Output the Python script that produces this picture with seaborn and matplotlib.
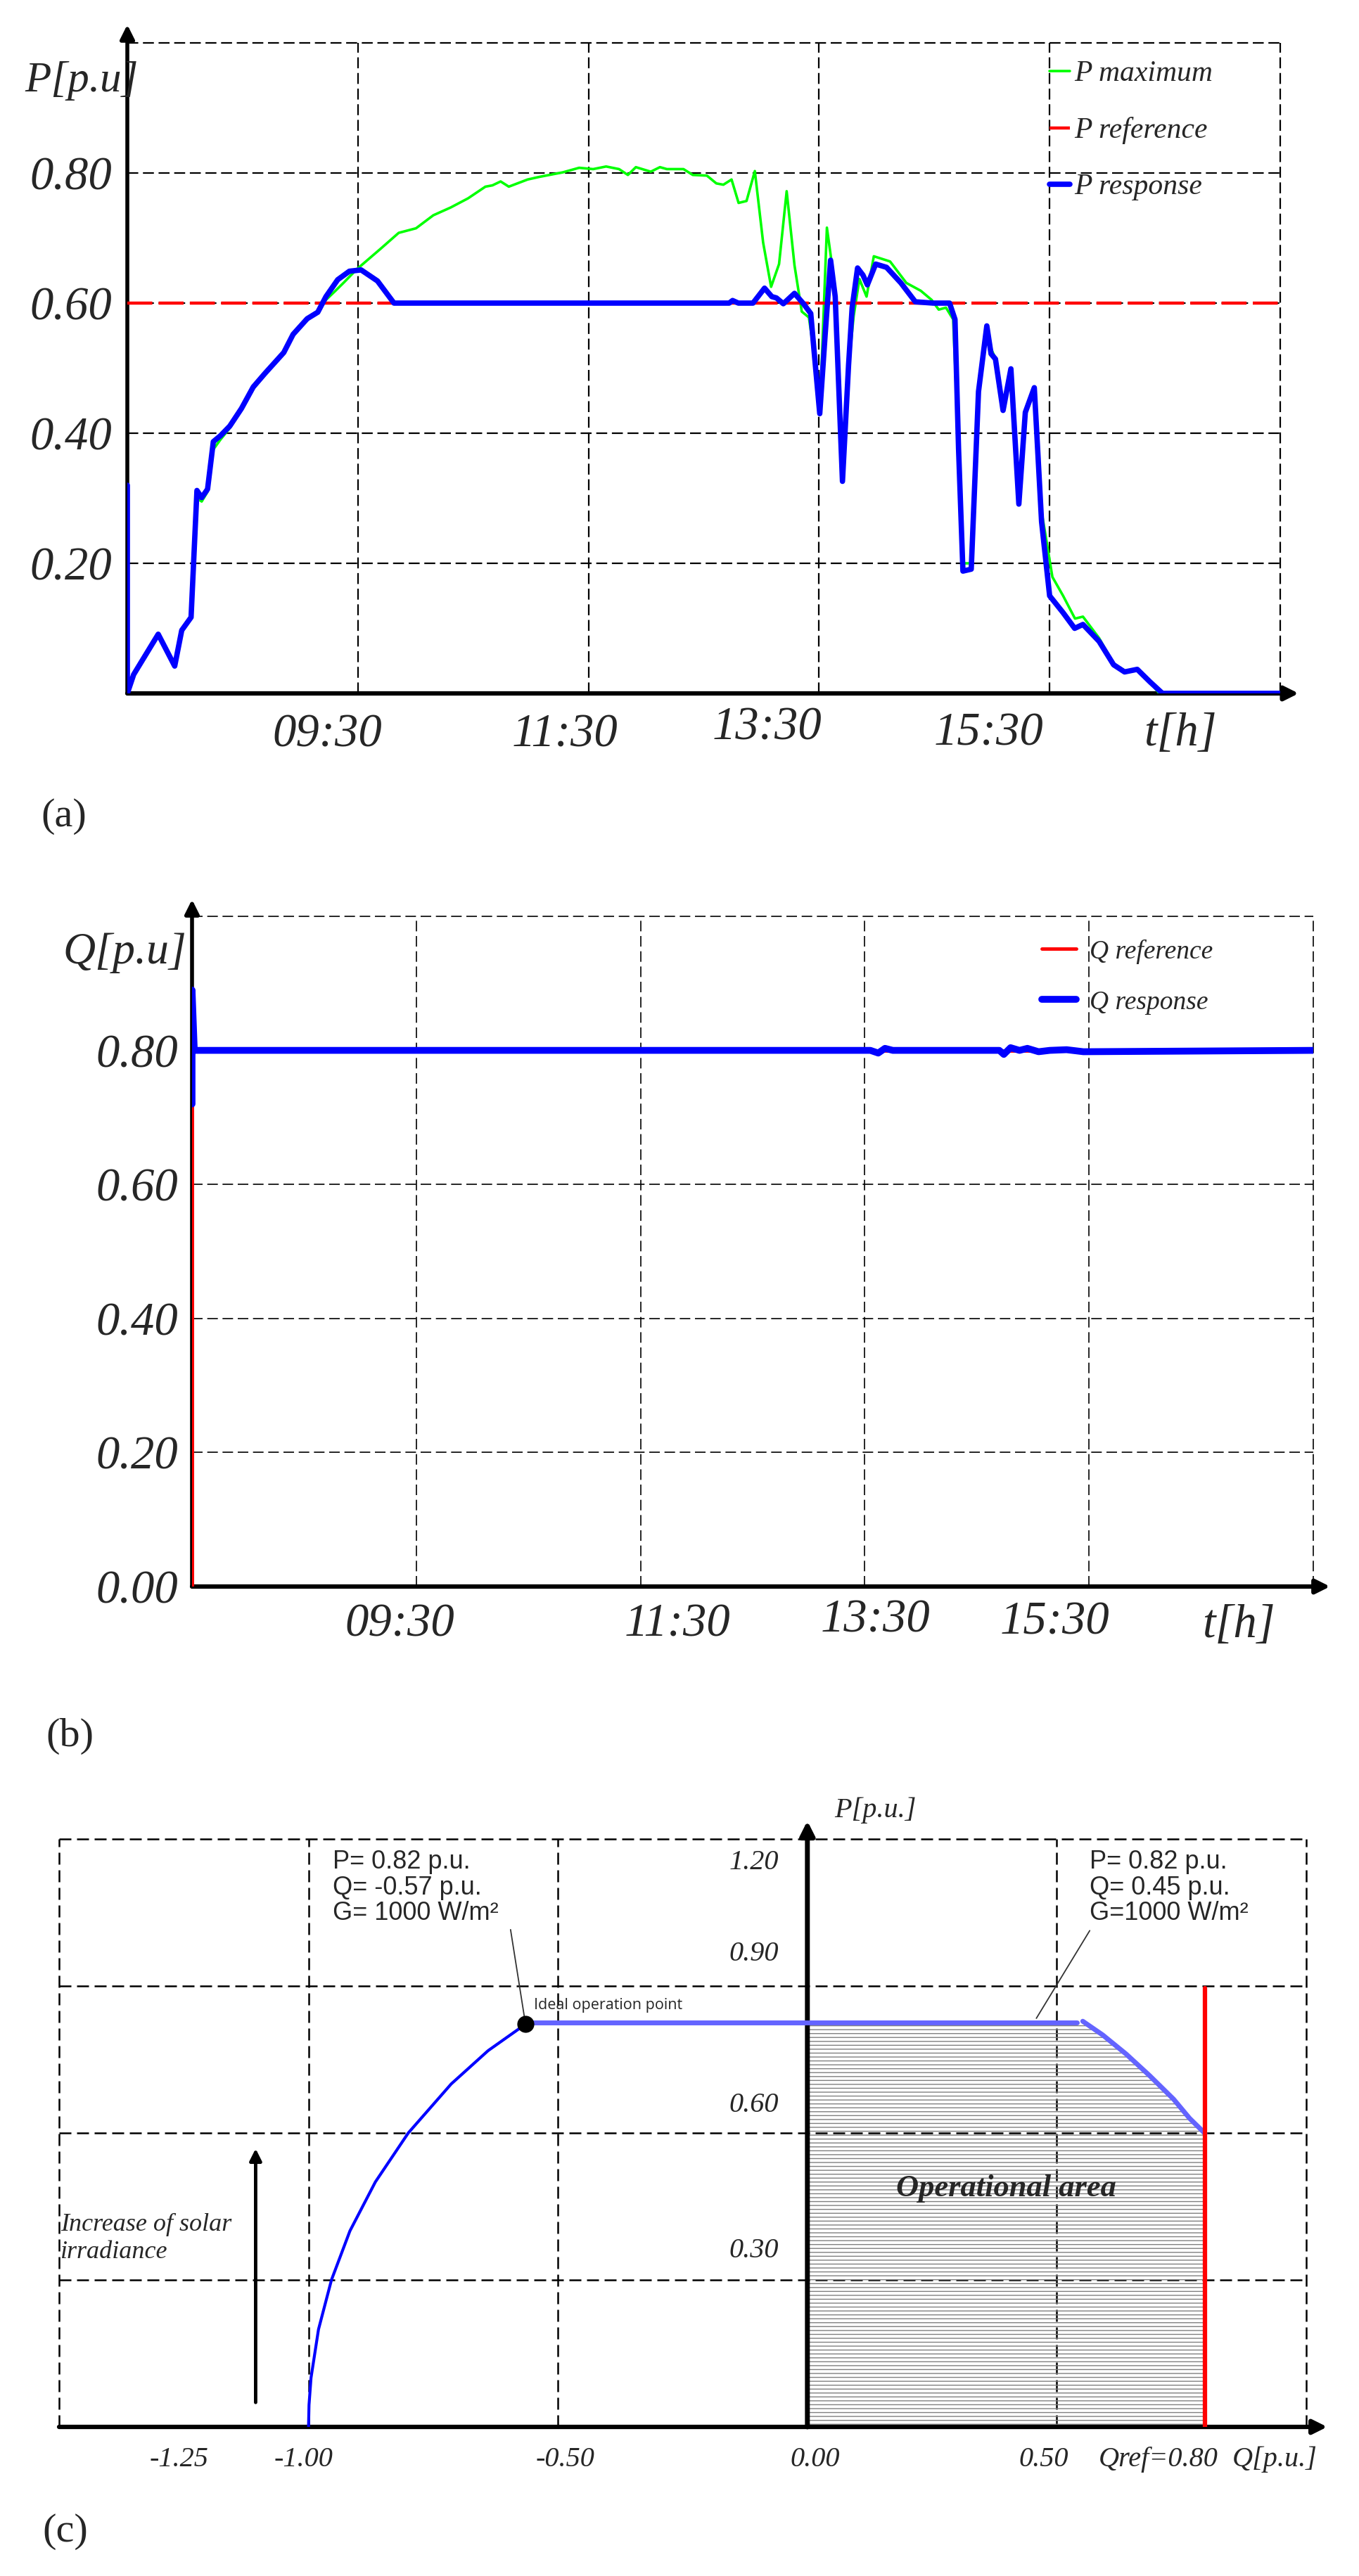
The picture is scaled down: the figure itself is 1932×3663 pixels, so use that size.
import matplotlib
matplotlib.use("Agg")
import matplotlib.pyplot as plt
import seaborn as sns

W, H = 1932, 3663

# ---------------- panel (a): active power ----------------
t_p_max = [7.5, 7.5, 7.555, 7.768, 7.911, 7.972, 8.053, 8.104, 8.145, 8.196, 8.246, 8.307,
           8.389, 8.49, 8.592, 8.694, 8.857, 8.938, 9.06, 9.152, 9.223, 9.30, 9.38, 9.49,
           9.70, 9.854, 10.004, 10.154, 10.305, 10.455, 10.606, 10.667, 10.738, 10.809,
           10.972, 11.073, 11.277, 11.419, 11.541, 11.653, 11.765, 11.842, 11.911, 12.04,
           12.12, 12.18, 12.324, 12.405, 12.527, 12.609, 12.67, 12.741, 12.802, 12.871,
           12.943, 13.015, 13.084, 13.153, 13.219, 13.287, 13.35, 13.412, 13.459, 13.506,
           13.568, 13.609, 13.65, 13.703, 13.756, 13.80, 13.85, 13.912, 13.975, 14.116,
           14.257, 14.382, 14.476, 14.538, 14.601, 14.663, 14.71, 14.748, 14.82, 14.883,
           14.955, 14.992, 15.03, 15.096, 15.164, 15.233, 15.289, 15.367, 15.43, 15.524,
           15.617, 15.72, 15.789, 15.929, 16.055, 16.15, 16.26, 16.369, 16.45, 17.5]
p_max = [0.32, 0.0, 0.029, 0.091, 0.042, 0.097, 0.117, 0.30, 0.295, 0.31, 0.375, 0.39,
         0.408, 0.435, 0.468, 0.49, 0.522, 0.55, 0.574, 0.586, 0.605, 0.618, 0.632, 0.652,
         0.684, 0.708, 0.715, 0.735, 0.747, 0.761, 0.779, 0.781, 0.787, 0.779,
         0.790, 0.794, 0.801, 0.808, 0.806, 0.810, 0.806, 0.797, 0.809, 0.802,
         0.809, 0.806, 0.806, 0.797, 0.796, 0.784, 0.782, 0.790, 0.754, 0.757,
         0.803, 0.693, 0.625, 0.660, 0.772, 0.658, 0.587, 0.578, 0.52, 0.430,
         0.716, 0.663, 0.575, 0.326, 0.50, 0.58, 0.637, 0.610, 0.672, 0.664,
         0.631, 0.619, 0.605, 0.590, 0.593, 0.575, 0.38, 0.20, 0.20, 0.46,
         0.56, 0.53, 0.515, 0.44, 0.50, 0.30, 0.43, 0.47, 0.28, 0.179,
         0.150, 0.115, 0.118, 0.085, 0.046, 0.035, 0.037, 0.018, 0.0, 0.0]

t_p_ref = [7.5, 17.5]
p_ref = [0.60, 0.60]

t_p_resp = [7.5, 7.5, 7.555, 7.768, 7.911, 7.972, 8.053, 8.104, 8.145, 8.196, 8.246, 8.307,
            8.389, 8.49, 8.592, 8.694, 8.857, 8.938, 9.06, 9.152, 9.223, 9.325, 9.426, 9.528,
            9.67, 9.813, 12.72, 12.75, 12.80, 12.927, 13.027, 13.09, 13.13, 13.19, 13.287,
            13.365, 13.428, 13.459, 13.506, 13.553, 13.60, 13.64, 13.703, 13.756, 13.787,
            13.834, 13.881, 13.919, 13.991, 14.085, 14.21, 14.335, 14.49, 14.632, 14.679,
            14.71, 14.748, 14.82, 14.883, 14.955, 14.992, 15.03, 15.096, 15.164, 15.233,
            15.289, 15.367, 15.43, 15.5, 15.617, 15.717, 15.789, 15.929, 16.055, 16.15,
            16.26, 16.369, 16.479, 17.5]
p_resp = [0.32, 0.0, 0.029, 0.091, 0.042, 0.097, 0.117, 0.312, 0.301, 0.314, 0.387, 0.396,
          0.411, 0.438, 0.471, 0.492, 0.524, 0.552, 0.576, 0.586, 0.610, 0.636, 0.649, 0.651,
          0.634, 0.600, 0.600, 0.604, 0.600, 0.600, 0.623, 0.610, 0.608, 0.599, 0.615,
          0.599, 0.584, 0.522, 0.430, 0.552, 0.666, 0.610, 0.326, 0.505, 0.593,
          0.654, 0.643, 0.628, 0.660, 0.655, 0.631, 0.602, 0.600, 0.600, 0.575,
          0.376, 0.188, 0.191, 0.464, 0.565, 0.522, 0.514, 0.435, 0.499, 0.291,
          0.432, 0.470, 0.264, 0.150, 0.124, 0.100, 0.106, 0.080, 0.044, 0.033,
          0.037, 0.018, 0.0, 0.0]

a_ytick_vals = [0.2, 0.4, 0.6, 0.8]
a_ytick_labels = ["0.20", "0.40", "0.60", "0.80"]

# ---------------- panel (b): reactive power ----------------
t_q_ref = [7.5, 7.5, 17.5]
q_ref = [0.0, 0.80, 0.80]
t_q_resp = [7.5, 7.5, 7.52, 7.6, 13.55, 13.62, 13.68, 13.75, 14.7, 14.74, 14.8, 14.88,
            14.95, 15.05, 15.15, 15.3, 15.45, 17.5]
q_resp = [0.72, 0.89, 0.80, 0.80, 0.80, 0.796, 0.803, 0.80, 0.80, 0.794, 0.804, 0.80,
          0.803, 0.798, 0.80, 0.801, 0.798, 0.80]

b_ytick_vals = [0.0, 0.2, 0.4, 0.6, 0.8]
b_ytick_labels = ["0.00", "0.20", "0.40", "0.60", "0.80"]

time_labels = ["09:30", "11:30", "13:30", "15:30", "t[h]"]

# ---------------- panel (c): capability curve ----------------
q_arc_left = [-1.0, -0.999, -0.995, -0.98, -0.954, -0.917, -0.866, -0.80, -0.714, -0.640, -0.565]
p_arc_left = [0.0, 0.045, 0.10, 0.199, 0.30, 0.40, 0.50, 0.60, 0.70, 0.768, 0.822]
q_flat = [-0.565, 0.541]
p_flat = [0.826, 0.826]
q_arc_right = [0.552, 0.592, 0.639, 0.686, 0.734, 0.766, 0.797]
p_arc_right = [0.828, 0.800, 0.761, 0.717, 0.669, 0.630, 0.599]
q_area = [0.0, 0.541, 0.552, 0.592, 0.639, 0.686, 0.734, 0.766, 0.797]
p_area = [0.82, 0.82, 0.826, 0.800, 0.761, 0.717, 0.669, 0.630, 0.599]
q_limit = [0.797, 0.797]
p_limit = [0.0, 0.895]
ideal_q = [-0.565]
ideal_p = [0.822]

c_xlabels = ["-1.25", "-1.00", "-0.50", "0.00", "0.50", "Qref=0.80", "Q[p.u.]"]
c_xlabel_pos = [-1.26, -1.01, -0.485, 0.016, 0.474, 0.704, 0.937]
c_ylabels = ["1.20", "0.90", "0.60", "0.30"]
c_ylabel_pos = [1.152, 0.966, 0.657, 0.360]

# ---------------- style ----------------
sns.set_style("white")
plt.rcParams["font.family"] = ["Liberation Serif", "DejaVu Serif"]
plt.rcParams["hatch.linewidth"] = 1.0
plt.rcParams["hatch.color"] = "#808080"

fig = plt.figure(figsize=(W / 100, H / 100), dpi=100)
ax_a = fig.add_axes([181 / W, 1 - 986 / H, 1639 / W, 925 / H])
ax_b = fig.add_axes([273 / W, 1 - 2256 / H, 1594 / W, 953 / H])
ax_c = fig.add_axes([84 / W, 1 - 3451 / H, 1773 / W, 836 / H])


def line(ax, x, y, **kw):
    sns.lineplot(x=x, y=y, ax=ax, sort=False, estimator=None, **kw)


def frame(ax, xlim, ylim, xgrid, ygrid, glw, dash):
    ax.set_xlim(xlim)
    ax.set_ylim(ylim)
    for s in ax.spines.values():
        s.set_visible(False)
    for x in xgrid:
        ax.axvline(x, color="black", lw=glw, ls=(0, dash), clip_on=False, zorder=1)
    for y in ygrid:
        ax.axhline(y, color="black", lw=glw, ls=(0, dash), clip_on=False, zorder=1)
    ax.tick_params(which="major", length=0)
    ax.tick_params(which="minor", direction="in", length=8, width=2, color="black")
    ax.set_xlabel("")
    ax.set_ylabel("")


def arrow(ax, start, end, lw, ms, coords="axes fraction", z=2):
    ax.annotate("", xy=end, xytext=start, xycoords=coords, textcoords=coords,
                arrowprops=dict(arrowstyle="-|>", lw=lw, color="black", mutation_scale=ms,
                                shrinkA=0, shrinkB=0),
                annotation_clip=False, zorder=z)


# ---------------- (a) ----------------
line(ax_a, t_p_max, p_max, color="#00ff00", lw=2.6, label="P maximum", zorder=3)
line(ax_a, t_p_ref, p_ref, color="#ff0000", lw=3.2, linestyle=(0, (8, 2)), label="P reference", zorder=3)
line(ax_a, t_p_resp, p_resp, color="#0000ff", lw=5.5, label="P response", zorder=4)
frame(ax_a, (7.5, 17.5), (0, 1.0), [9.5, 11.5, 13.5, 15.5, 17.5], [0.2, 0.4, 0.6, 0.8, 1.0], 1.6, (7, 3))
ax_a.set_xticks([])
ax_a.set_xticks([8.5, 9.5, 10.5, 11.5, 12.5, 13.5, 14.5, 15.5, 16.5], minor=True)
ax_a.set_yticks(a_ytick_vals, a_ytick_labels, fontsize=48, fontstyle="italic")
ax_a.set_yticks([0.1, 0.3, 0.5, 0.7, 0.9], minor=True)
ax_a.tick_params(axis="y", which="major", pad=16)
arrow(ax_a, (0, 0), (1.016, 0), 4.5, 30)
arrow(ax_a, (0, 0), (0, 1.028), 4, 30)
a_xpos = [9.233, 11.296, 13.048, 14.968, 16.634]
a_ypos = [-0.064, -0.064, -0.053, -0.062, -0.062]
for lab, x, y in zip(time_labels, a_xpos, a_ypos):
    ax_a.text(x, y, lab, transform=ax_a.get_xaxis_transform(), ha="center", va="center",
              fontsize=48, fontstyle="italic")
ax_a.text(-0.089, 0.942, "P[p.u]", transform=ax_a.transAxes, ha="left", va="center",
          fontsize=44, fontstyle="italic")
ax_a.legend(loc="upper left", bbox_to_anchor=(0.80, 0.973), frameon=False,
            prop=dict(family="Liberation Serif", style="italic", size=30),
            handlelength=0.7, handletextpad=0.15, labelspacing=1.0, borderaxespad=0, borderpad=0)

# ---------------- (b) ----------------
line(ax_b, t_q_ref, q_ref, color="#ff0000", lw=3.5, label="Q reference", zorder=3)
line(ax_b, t_q_resp, q_resp, color="#0000ff", lw=7, label="Q response", zorder=4)
frame(ax_b, (7.5, 17.5), (0, 1.0), [9.5, 11.5, 13.5, 15.5, 17.5], [0.2, 0.4, 0.6, 1.0], 1.2, (9, 4))
ax_b.set_xticks([])
ax_b.set_xticks([8.5, 9.5, 10.5, 11.5, 12.5, 13.5, 14.5, 15.5, 16.5], minor=True)
ax_b.set_yticks(b_ytick_vals, b_ytick_labels, fontsize=48, fontstyle="italic")
ax_b.set_yticks([0.1, 0.3, 0.5, 0.7, 0.9], minor=True)
ax_b.tick_params(axis="y", which="major", pad=14)
arrow(ax_b, (0, 0), (1.015, 0), 4.5, 30)
arrow(ax_b, (0, 0), (0, 1.025), 4, 30)
b_xpos = [9.351, 11.83, 13.595, 15.195, 16.833]
b_ypos = [-0.057, -0.057, -0.050, -0.054, -0.058]
for lab, x, y in zip(time_labels, b_xpos, b_ypos):
    ax_b.text(x, y, lab, transform=ax_b.get_xaxis_transform(), ha="center", va="center",
              fontsize=48, fontstyle="italic")
ax_b.text(-0.115, 0.945, "Q[p.u]", transform=ax_b.transAxes, ha="left", va="center",
          fontsize=46, fontstyle="italic")
ax_b.legend(loc="upper left", bbox_to_anchor=(0.758, 0.966), frameon=False,
            prop=dict(family="Liberation Serif", style="italic", size=27),
            handlelength=1.3, handletextpad=0.5, labelspacing=1.0, borderaxespad=0, borderpad=0)

# ---------------- (c) ----------------
frame(ax_c, (-1.5, 1.0), (0, 1.2), [-1.5, -1.0, -0.5, 0.5, 1.0], [0.3, 0.6, 0.9, 1.2], 1.8, (6.8, 3.2))
ax_c.set_xticks([])
ax_c.set_yticks([])
ax_c.set_xticks([-1.25], minor=True)
ax_c.set_yticks([0.15, 0.45, 0.75, 1.05], minor=True)
ax_c.fill_between(q_area, 0, p_area, facecolor="none", edgecolor="#808080", hatch="---",
                  linewidth=0, zorder=1.5)
arrow(ax_c, (-1.5, 0), (1.042, 0), 4.5, 30, coords="data")
arrow(ax_c, (0, 0), (0, 1.237), 5, 30, coords="data")
line(ax_c, q_arc_left, p_arc_left, color="#0000ff", lw=3, zorder=3)
line(ax_c, q_flat, p_flat, color="#6464ff", lw=5, zorder=3)
line(ax_c, q_arc_right, p_arc_right, color="#6464ff", lw=5, zorder=3)
line(ax_c, q_limit, p_limit, color="#ff0000", lw=4.5, zorder=3)
sns.scatterplot(x=ideal_q, y=ideal_p, ax=ax_c, color="black", s=260, edgecolor="black", zorder=5)
ax_c.text(-0.548, 0.860, "Ideal operation point", family="Open Sans", fontsize=15.5,
          ha="left", va="center")
ax_c.text(-0.951, 1.178, "P= 0.82 p.u.\nQ= -0.57 p.u.\nG= 1000 W/m²", family="Liberation Sans",
          fontsize=26, ha="left", va="top", linespacing=1.05)
ax_c.text(0.566, 1.178, "P= 0.82 p.u.\nQ= 0.45 p.u.\nG=1000 W/m²", family="Liberation Sans",
          fontsize=26, ha="left", va="top", linespacing=1.05)
ax_c.annotate("", xy=(-0.565, 0.822), xytext=(-0.595, 1.015),
              arrowprops=dict(arrowstyle="-", lw=1.3, color="#333333", shrinkA=0, shrinkB=0))
ax_c.annotate("", xy=(0.459, 0.834), xytext=(0.566, 1.013),
              arrowprops=dict(arrowstyle="-", lw=1.3, color="#333333", shrinkA=0, shrinkB=0))
ax_c.text(0.398, 0.486, "Operational area", fontsize=32, fontweight="bold", fontstyle="italic",
          ha="center", va="center", zorder=4)
arrow(ax_c, (-1.106, 0.05), (-1.106, 0.568), 3.5, 25, coords="data")
ax_c.text(-1.497, 0.385, "Increase of solar\nirradiance", fontsize=26, fontstyle="italic",
          ha="left", va="center", linespacing=1.25)
for lab, x in zip(c_xlabels, c_xlabel_pos):
    ax_c.text(x, -0.067, lab, fontsize=29, fontstyle="italic", ha="center", va="center", clip_on=False)
for lab, y in zip(c_ylabels, c_ylabel_pos):
    ax_c.text(-0.057, y, lab, fontsize=29, fontstyle="italic", ha="right", va="center")
ax_c.text(0.054, 1.258, "P[p.u.]", fontsize=29, fontstyle="italic", ha="left", va="center", clip_on=False)

# panel letters
fig.text(58 / W, 1 - 1161 / H, "(a)", fontsize=42, ha="left", va="center")
fig.text(65 / W, 1 - 2469 / H, "(b)", fontsize=42, ha="left", va="center")
fig.text(60 / W, 1 - 3600 / H, "(c)", fontsize=42, ha="left", va="center")

fig.savefig("out.png", dpi=100, facecolor="white")
